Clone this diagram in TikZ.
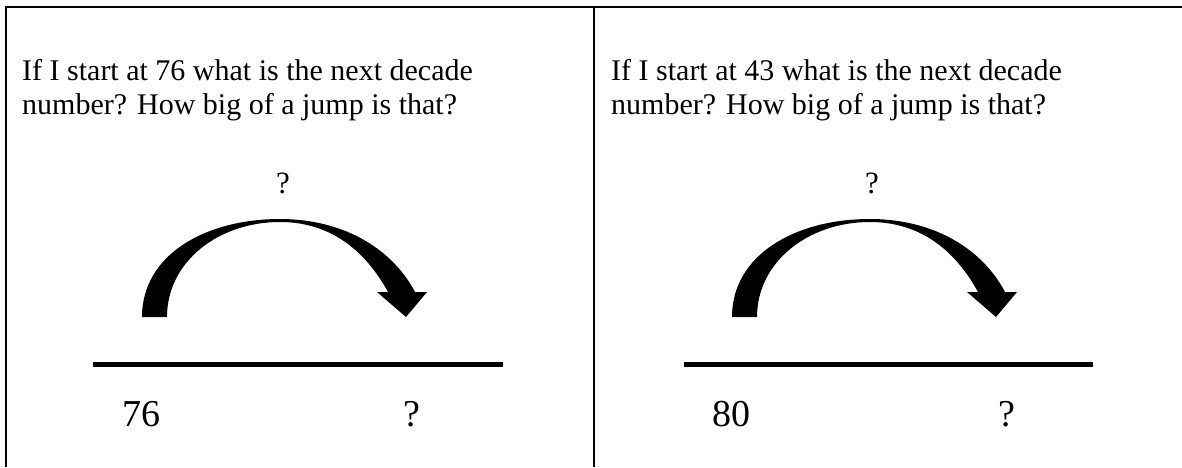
\documentclass[tikz,border=0pt]{standalone}
\usepackage{fontspec}
\setmainfont{Liberation Serif}
\begin{document}
\begin{tikzpicture}[x=1pt,y=-1pt,
  rule/.style={line width=2.2pt,black},
  numline/.style={line width=5pt,black},
  qtext/.style={font=\fontsize{30}{34}\selectfont,inner sep=0pt,anchor=base west},
  jumplbl/.style={font=\fontsize{31}{34}\selectfont,inner sep=0pt,anchor=base},
  ticklbl/.style={font=\fontsize{38}{40}\selectfont,inner sep=0pt,anchor=base},
  jumparrow/.style={fill=black,draw=none}]
\useasboundingbox (0,0) rectangle (1182,467);
\fill[white] (0,0) rectangle (1182,467);
% table rules
\coordinate (tl) at (5,7);
\coordinate (tr) at (1182,7);
\coordinate (lb) at (6,467);
\coordinate (lt) at (6,6);
\coordinate (mt) at (594,6);
\coordinate (mb) at (594,467);
\draw[rule] (tl) -- (tr);
\draw[rule] (lt) -- (lb);
\draw[rule] (mt) -- (mb);
% left cell
\node[qtext] (q1a) at (22,80) {If I start at 76 what is the next decade};
\node[qtext] (q1b) at (22,114) {number? How big of a jump is that?};
\node[jumplbl] (j1) at (283,193) {?};
\begin{scope}
\fill[jumparrow] (142,317) .. controls (142,255) and (205,219) .. (280,219)
  .. controls (345,219) and (393,250) .. (415,292)
  -- (427,292) -- (406,317) -- (377,292) -- (388,292)
  .. controls (365,250) and (330,222) .. (280,222)
  .. controls (218,222) and (167,262) .. (167,317) -- cycle;
\end{scope}
\coordinate (n1a) at (93,364);
\coordinate (n1b) at (503,364);
\draw[numline] (n1a) -- (n1b);
\node[ticklbl] (s1) at (141,426) {76};
\node[ticklbl] (e1) at (412,426) {?};
% right cell
\node[qtext] (q2a) at (611,80) {If I start at 43 what is the next decade};
\node[qtext] (q2b) at (611,114) {number? How big of a jump is that?};
\node[jumplbl] (j2) at (872,193) {?};
\begin{scope}[xshift=590pt]
\fill[jumparrow] (142,317) .. controls (142,255) and (205,219) .. (280,219)
  .. controls (345,219) and (393,250) .. (415,292)
  -- (427,292) -- (406,317) -- (377,292) -- (388,292)
  .. controls (365,250) and (330,222) .. (280,222)
  .. controls (218,222) and (167,262) .. (167,317) -- cycle;
\end{scope}
\coordinate (n2a) at (684,364);
\coordinate (n2b) at (1093,364);
\draw[numline] (n2a) -- (n2b);
\node[ticklbl] (s2) at (731,426) {80};
\node[ticklbl] (e2) at (1007,426) {?};
\end{tikzpicture}
\end{document}
